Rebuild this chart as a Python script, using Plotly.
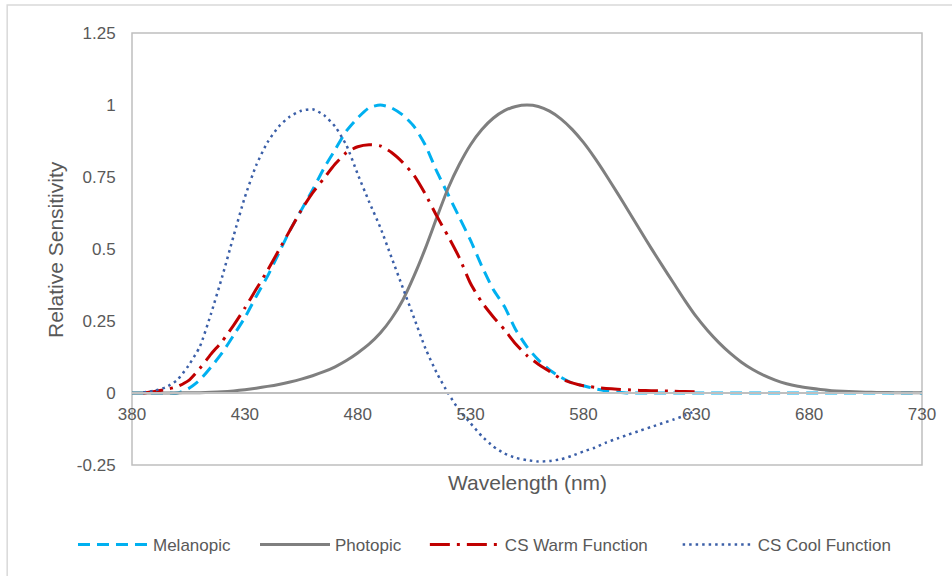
import plotly.graph_objects as go

# ---- data ----
wl_mel = list(range(380, 735, 5))
melanopic = [0, 0, 0, 0, 0, 0.015, 0.045, 0.09, 0.14, 0.20, 0.262, 0.335, 0.405, 0.485,
             0.565, 0.635, 0.705, 0.78, 0.845, 0.91, 0.955, 0.99, 1.0, 0.99, 0.965, 0.925,
             0.86, 0.77, 0.69, 0.61, 0.53, 0.44, 0.36, 0.30, 0.22, 0.16, 0.115, 0.08, 0.055,
             0.035, 0.025, 0.015, 0.007, 0.003] + [0] * 27

wl_pho = list(range(380, 735, 5))
photopic = [0.00004, 0.000064, 0.00012, 0.00022, 0.0004, 0.00064, 0.0012, 0.00218, 0.004,
            0.0073, 0.0116, 0.01684, 0.023, 0.0298, 0.038, 0.048, 0.06, 0.0739, 0.091,
            0.1126, 0.139, 0.1693, 0.208, 0.2586, 0.323, 0.4073, 0.503, 0.6082, 0.71,
            0.7932, 0.862, 0.9149, 0.954, 0.9803, 0.995, 1.0, 0.995, 0.9786, 0.952, 0.9154,
            0.87, 0.8163, 0.757, 0.6949, 0.631, 0.5668, 0.503, 0.4412, 0.381, 0.321, 0.265,
            0.217, 0.175, 0.1382, 0.107, 0.0816, 0.061, 0.0446, 0.032, 0.0232, 0.017,
            0.01192, 0.0082, 0.00572, 0.0041, 0.00293, 0.0021, 0.0014, 0.001, 0.0007, 0.0005]

wl_cs = list(range(385, 635, 5))
cs_warm = [0.0, 0.005, 0.012, 0.022, 0.043, 0.085, 0.135, 0.18, 0.235, 0.295, 0.36, 0.425,
           0.495, 0.565, 0.635, 0.695, 0.745, 0.795, 0.835, 0.855, 0.862, 0.858, 0.835, 0.80,
           0.755, 0.69, 0.615, 0.545, 0.47, 0.38, 0.315, 0.265, 0.22, 0.17, 0.13, 0.10,
           0.075, 0.05, 0.035, 0.025, 0.02, 0.016, 0.013, 0.011, 0.009, 0.008, 0.007, 0.006,
           0.005, 0.004]
cs_cool = [0.002, 0.008, 0.02, 0.045, 0.095, 0.16, 0.275, 0.405, 0.545, 0.68, 0.79, 0.87,
           0.925, 0.96, 0.98, 0.985, 0.965, 0.925, 0.86, 0.76, 0.665, 0.575, 0.47, 0.365,
           0.26, 0.155, 0.07, 0.0, -0.06, -0.105, -0.15, -0.185, -0.21, -0.225, -0.233,
           -0.238, -0.236, -0.23, -0.218, -0.203, -0.19, -0.172, -0.158, -0.144, -0.131,
           -0.118, -0.105, -0.092, -0.078, -0.06]

x_ticks = [380, 430, 480, 530, 580, 630, 680, 730]
y_ticks = [-0.25, 0, 0.25, 0.5, 0.75, 1, 1.25]
y_labels = ["-0.25", "0", "0.25", "0.5", "0.75", "1", "1.25"]

FONT = "Liberation Sans, Arial, sans-serif"
TXT = "#595959"

fig = go.Figure()
fig.add_trace(go.Scatter(x=wl_mel, y=melanopic, mode="lines", name="Melanopic", legend="legend",
                         line=dict(color="#00B0F0", width=3, dash="12px,7px",
                                   shape="spline", smoothing=0.6)))
fig.add_trace(go.Scatter(x=wl_pho, y=photopic, mode="lines", name="Photopic", legend="legend2",
                         line=dict(color="#7F7F7F", width=3, shape="spline", smoothing=0.6)))
fig.add_trace(go.Scatter(x=wl_cs, y=cs_warm, mode="lines", name="CS Warm Function", legend="legend3",
                         line=dict(color="#C00000", width=3, dash="20px,7px,3px,7px",
                                   shape="spline", smoothing=0.6)))
fig.add_trace(go.Scatter(x=wl_cs, y=cs_cool, mode="lines", name="CS Cool Function", legend="legend4",
                         line=dict(color="#3B5FA8", width=2.5, dash="2.5px,4px",
                                   shape="spline", smoothing=0.6)))


def leg(xpos):
    return dict(orientation="h", x=xpos, xanchor="left", y=-0.185, yanchor="middle",
                font=dict(size=17, color=TXT), itemwidth=70, bgcolor="rgba(0,0,0,0)")


fig.update_layout(
    width=952, height=576,
    margin=dict(l=132, r=30, t=33, b=111),
    paper_bgcolor="white", plot_bgcolor="white",
    font=dict(family=FONT, color=TXT, size=17),
    showlegend=True,
    legend=leg(-0.0747),
    legend2=leg(0.1557),
    legend3=leg(0.3707),
    legend4=leg(0.6907),
    xaxis=dict(range=[380, 730], tickvals=x_ticks, ticktext=[str(v) for v in x_ticks],
               anchor="free", position=1 / 6, showline=True, linecolor="#BFBFBF",
               linewidth=1.5, showgrid=False, zeroline=False, ticks="outside", ticklen=6,
               tickcolor="rgba(0,0,0,0)", tickfont=dict(size=17, color=TXT)),
    yaxis=dict(range=[-0.25, 1.25], domain=[0, 1], tickvals=y_ticks, ticktext=y_labels,
               showline=False, showgrid=False, zeroline=False, ticks="outside",
               ticklen=12, tickcolor="rgba(0,0,0,0)", tickfont=dict(size=17, color=TXT)),
    shapes=[
        dict(type="rect", xref="x domain", yref="y domain", x0=0, x1=1, y0=0, y1=1,
             line=dict(color="#BFBFBF", width=1.5), layer="below"),
        dict(type="rect", xref="paper", yref="paper", x0=-0.158, x1=1.05, y0=-0.28, y1=1.065,
             line=dict(color="#D9D9D9", width=1.5), layer="below"),
    ],
    annotations=[
        dict(text="Relative Sensitivity", xref="paper", yref="paper", x=-0.0975, y=0.5,
             textangle=-90, showarrow=False, xanchor="center", yanchor="middle",
             font=dict(size=21, color=TXT)),
        dict(text="Wavelength (nm)", xref="paper", yref="paper", x=0.5, y=-0.04,
             showarrow=False, xanchor="center", yanchor="middle",
             font=dict(size=21, color=TXT)),
    ],
)

fig.write_html("out.html")
